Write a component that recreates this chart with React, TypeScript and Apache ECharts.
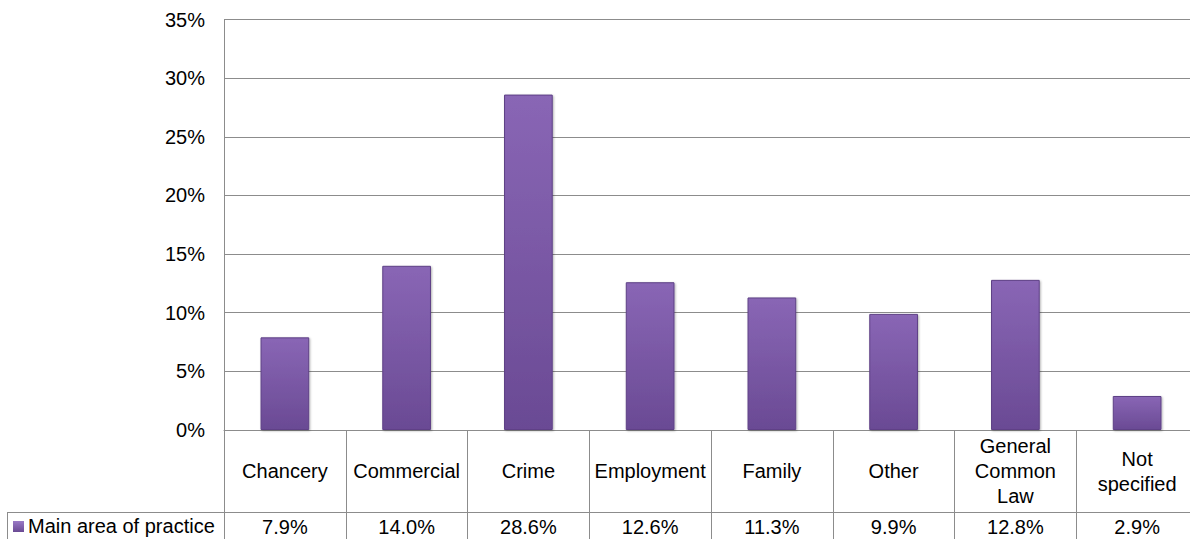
import React, { useEffect, useRef } from "react";
import * as echarts from "echarts";

const categories = [
  "Chancery",
  "Commercial",
  "Crime",
  "Employment",
  "Family",
  "Other",
  "General\nCommon\nLaw",
  "Not\nspecified",
];
const values = [7.9, 14.0, 28.6, 12.6, 11.3, 9.9, 12.8, 2.9];
const seriesName = "Main area of practice";
const yTicks = [0, 5, 10, 15, 20, 25, 30, 35];

const FONT = "'Liberation Sans', Arial, Helvetica, sans-serif";
const GRID_COLOR = "#8c8c8c";

export default function App() {
  const ref = useRef<HTMLDivElement>(null);

  useEffect(() => {
    if (!ref.current) return;
    const chart = echarts.init(ref.current, undefined, { renderer: "svg" });
    const barGradient = new echarts.graphic.LinearGradient(0, 0, 0, 1, [
      { offset: 0, color: "#8966b5" },
      { offset: 1, color: "#6a4a94" },
    ]);
    const markerGradient = new echarts.graphic.LinearGradient(0, 0, 0, 1, [
      { offset: 0, color: "#9a7ac6" },
      { offset: 1, color: "#6a4a94" },
    ]);
    chart.setOption({
      animation: false,
      grid: { left: 224, top: 19.5, bottom: 109, right: 0, containLabel: false },
      xAxis: [
        {
          type: "category",
          data: categories,
          position: "bottom",
          axisLine: { show: true, lineStyle: { color: GRID_COLOR, width: 1 } },
          axisTick: { show: true, length: 112, lineStyle: { color: GRID_COLOR, width: 1 } },
          axisLabel: {
            interval: 0,
            hideOverlap: false,
            margin: 41,
            verticalAlign: "middle",
            fontSize: 20,
            lineHeight: 25,
            color: "#000",
            fontFamily: FONT,
          },
        },
        {
          type: "category",
          data: values.map((v) => v.toFixed(1) + "%"),
          position: "bottom",
          offset: 0,
          axisLine: { show: false },
          axisTick: { show: false },
          axisLabel: {
            interval: 0,
            hideOverlap: false,
            margin: 97,
            verticalAlign: "middle",
            fontSize: 20,
            color: "#000",
            fontFamily: FONT,
          },
        },
      ],
      yAxis: {
        type: "value",
        min: 0,
        max: 35,
        interval: 5,
        axisLine: { show: true, lineStyle: { color: GRID_COLOR, width: 1 } },
        axisTick: { show: false },
        splitLine: { show: true, lineStyle: { color: GRID_COLOR, width: 1 } },
        axisLabel: {
          margin: 19,
          fontSize: 20,
          color: "#000",
          fontFamily: FONT,
          formatter: (v: number) => (yTicks.includes(v) ? v + "%" : ""),
        },
      },
      series: [
        {
          name: seriesName,
          type: "bar",
          xAxisIndex: 0,
          data: values,
          barWidth: "40%",
          itemStyle: {
            color: barGradient,
            borderColor: "#5e4186",
            borderWidth: 1,
            shadowColor: "rgba(0,0,0,0.3)",
            shadowBlur: 2,
            shadowOffsetX: 1,
            shadowOffsetY: 1,
          },
        },
      ],
      graphic: [
        {
          type: "line",
          shape: { x1: 7, y1: 512.5, x2: 1198, y2: 512.5 },
          style: { stroke: GRID_COLOR, lineWidth: 1 },
        },
        {
          type: "line",
          shape: { x1: 7.5, y1: 512, x2: 7.5, y2: 540 },
          style: { stroke: GRID_COLOR, lineWidth: 1 },
        },
        {
          type: "rect",
          shape: { x: 13, y: 521, width: 11, height: 11 },
          style: { fill: markerGradient },
        },
        {
          type: "text",
          x: 28,
          y: 526,
          style: {
            text: seriesName,
            fontSize: 20,
            fontFamily: FONT,
            fill: "#000",
            verticalAlign: "middle",
            align: "left",
          },
        },
      ],
    });
    return () => chart.dispose();
  }, []);

  return (
    <div
      style={{
        position: "fixed",
        left: 0,
        top: 0,
        width: 1190,
        height: 539,
        overflow: "hidden",
        background: "#fff",
      }}
    >
      <div ref={ref} style={{ width: 1198, height: 539 }} />
    </div>
  );
}
